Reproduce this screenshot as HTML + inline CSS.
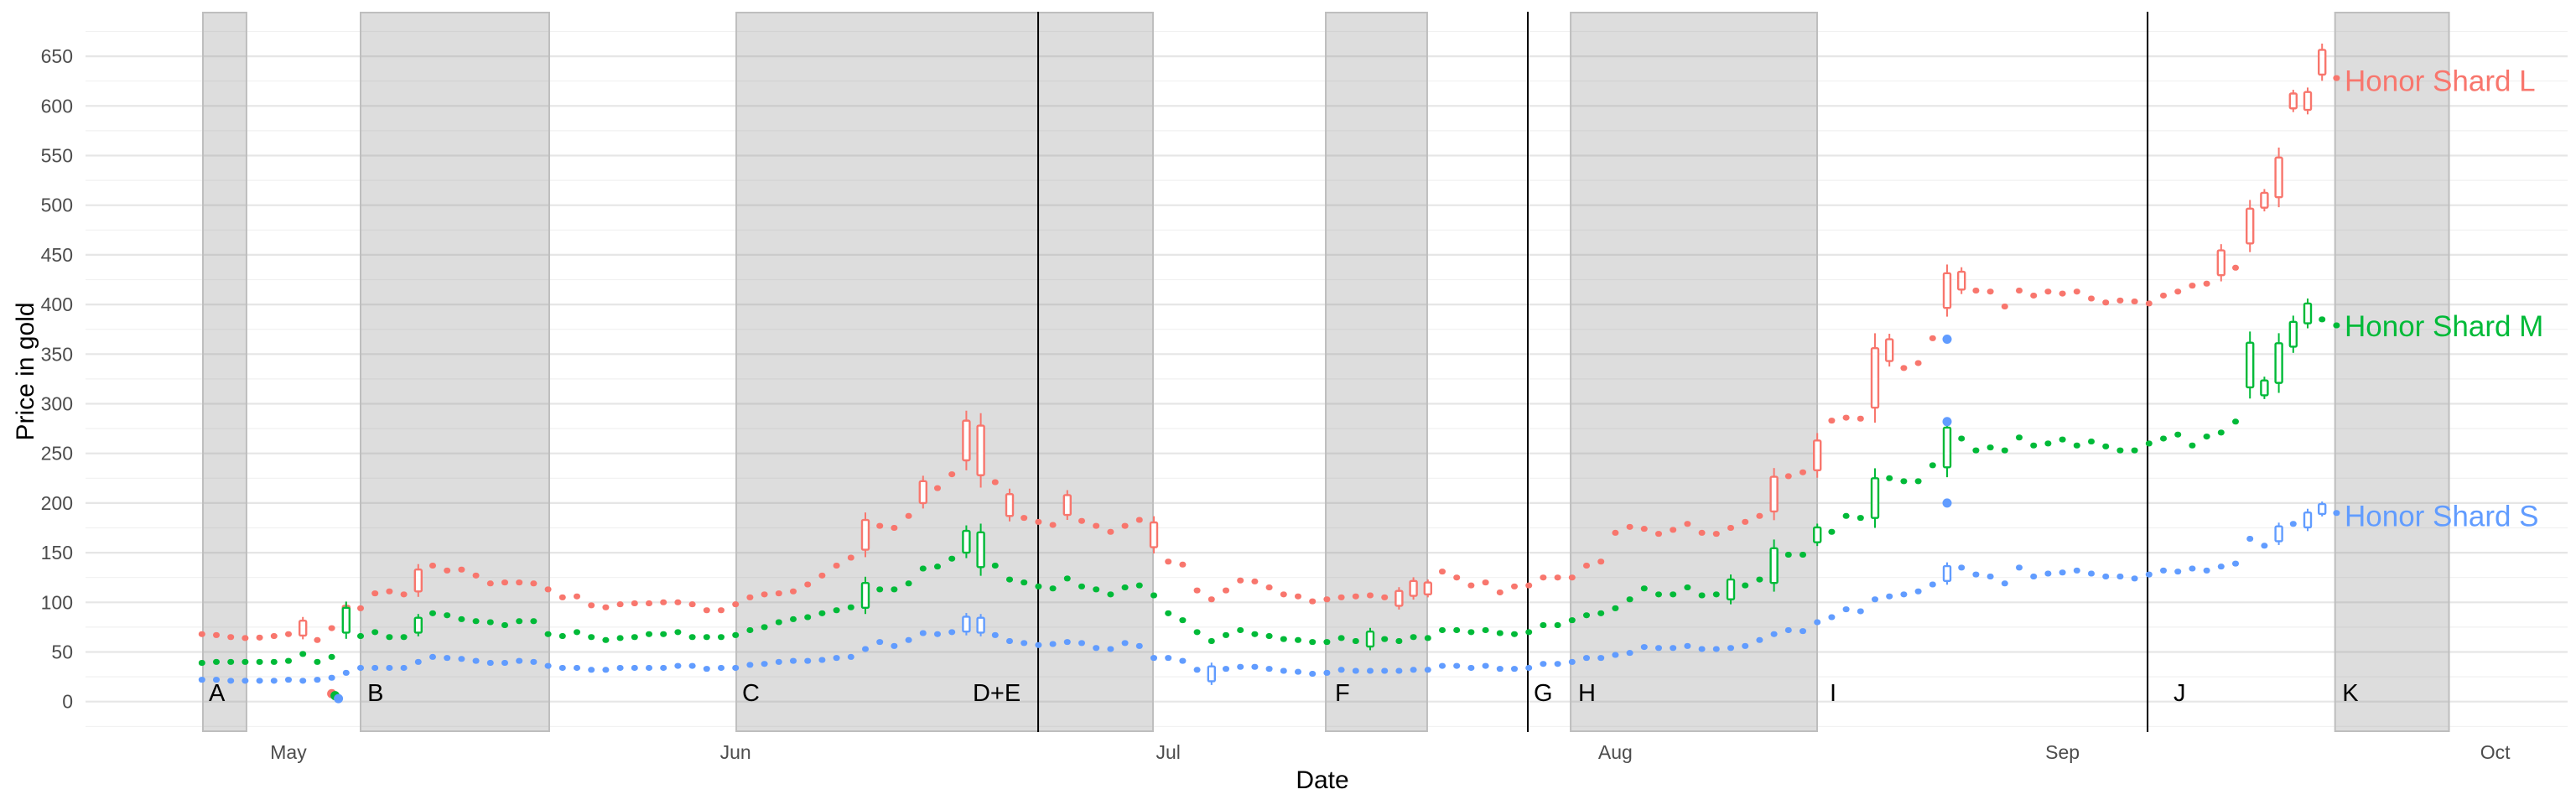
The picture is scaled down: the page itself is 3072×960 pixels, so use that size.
<!DOCTYPE html>
<html><head><meta charset="utf-8"><style>
html,body{margin:0;padding:0;background:#fff;}
svg{display:block;font-family:"Liberation Sans",sans-serif;}
</style></head>
<body>
<svg id="chart" width="3072" height="960" viewBox="0 0 3072 960" xmlns="http://www.w3.org/2000/svg">
<g id="grid"></g>
<g id="shades"></g>
<g id="vlines"></g>
<g id="marks"></g>
<g id="labels"></g>
<text x="1577" y="940" font-size="30" text-anchor="middle" fill="#000">Date</text>
<text transform="translate(40,443) rotate(-90)" font-size="30" text-anchor="middle" fill="#000">Price in gold</text>
</svg>
<script>
const startDay = -7; // Apr 24 relative to May 1
const redValues = [68,67,65,64,64.5,66,68,
74,62,74,89,94,109,111,108,122,137,
132,133,127,119,120,120,119,113,105,106,
97,95,98,99,99,100,100,98,92,92,
98,105,108,109,111,118,127,137,
145,168,177,175,187,211,215,229,263,253,221,198,
185,181,178,198,182,177,171,177,183,168,
141,138,112,103,112,122,121,115,108,106,
101,103,105,106,107,105,104,114,114,131,
125,117,120,110,116,117,125,125,125,137,
141,170,176,174,169,173,179,170,169,175,
181,187,209,227,231,248,283,286,285,326,
354,336,341,366,414,424,414,413,398,414,
409,413,411,413,406,402,404,403,401,409,
413,419,421,442,437,479,505,528,605,605,644,628];
const greenValues = [39,40,40,40,40,40,41,
48,40,45,82,66,70,65,65,77,89,
87,83,81,80,77,81,81,68,66,70,
65,62,64,65,68,68,70,65,65,65,
67,72,75,80,83,85,89,92,
95,107,113,113,119,134,136,144,161,153,137,123,
120,116,114,124,116,113,108,115,117,107,
89,82,70,61,67,72,68,66,63,62,
60,60,64,61,63,63,61,65,64,72,
72,70,72,69,68,70,77,77,82,87,
89,94,103,114,108,108,115,107,108,113,
117,123,137,148,148,168,171,187,185,205,
225,222,222,238,256,265,253,256,253,266,
258,260,264,258,262,257,253,253,260,265,
269,258,267,271,282,339,316,341,370,391,385,379];
const blueValues = [22,22,21,21,21,21,22,
21,22,24,29,34,34,34,34,40,45,
44,43,41,39,39,41,40,36,34,34,
32,32,34,34,34,34,36,36,33,34,
34,37,38,40,41,41,42,44,
45,53,60,56,62,69,68,70,78,77,67,61,
59,57,58,60,59,54,53,59,56,44,
44,41,32,28,33,35,35,33,31,30,
28,29,32,31,31,31,31,32,32,36,
36,34,36,33,33,34,38,38,40,44,
44,47,49,55,54,54,56,53,53,54,
56,62,68,72,71,80,85,93,91,103,
106,108,111,118,129,135,128,126,119,135,
126,129,130,132,129,126,126,124,128,132,
131,134,132,136,139,164,157,169,179,183,194,190];
const redWideDays = [0,3,8,39,43,46,47,49,53,59,76,77,78,102,105,109,110,114,115,133,135,136,137,138,139,140];
const redWideSpans = [15,15,22,30,22,40,50,22,20,25,15,15,12,35,30,60,22,35,18,25,35,15,40,15,18,25];
const greenWideDays = [3,8,39,46,47,74,99,102,105,109,114,135,136,137,138,139];
const greenWideSpans = [25,15,25,22,35,15,20,35,15,40,40,45,15,40,25,20];
const blueWideDays = [46,47,63,114,137,139,140];
const blueWideSpans = [15,15,15,15,15,15,10];
const outlierDays = [2,2,2,114,114,114];
const outlierValues = [8,6,3,365,282,200];
const outlierSeries = ["red","green","blue","blue","blue","blue"];
const yTicks = [0,50,100,150,200,250,300,350,400,450,500,550,600,650];
const monthLabels = ["May","Jun","Jul","Aug","Sep","Oct"];
const monthOffsets = [0,31,61,92,123,153];
const shadeNames = ["A","B","C","F","H","K"];
const shadeStart = [-5.93,5.0,31.05,71.92,88.9,141.9];
const shadeEnd = [-2.91,18.08,59.94,78.95,105.99,149.8];
const lineNames = ["D+E","G","J"];
const lineDays = [51.98,85.93,128.9];
const labelNames = ["A","B","C","D+E","F","G","H","I","J","K"];
const labelDays = [-5.52,5.47,31.45,47.44,72.56,86.34,89.42,106.86,130.7,142.4];
const seriesNames = ["Honor Shard L","Honor Shard M","Honor Shard S"];
const seriesEndValues = [625,378,187];

const NS="http://www.w3.org/2000/svg";
const X0=344, PXD=17.2, Y0=836.7, PXV=1.184;
function xDate(d){return X0+d*PXD;}
function xCandle(d){return X0+(d+1.0)*PXD;}
function yv(v){return Y0-v*PXV;}
function mk(tag,attrs,parent){const e=document.createElementNS(NS,tag);for(const k in attrs)e.setAttribute(k,attrs[k]);parent.appendChild(e);return e;}
const colors={red:"#F8766D",green:"#00BA38",blue:"#619CFF"};

const grid=document.getElementById("grid");
for(let v=-25;v<=675;v+=25){
  const major=v%50===0;
  const l=mk("line",{x1:102,x2:3062,y1:yv(v),y2:yv(v),stroke:major?"#e6e6e6":"#f1f1f1","stroke-width":major?2.2:1.2},grid);
  
  
}
yTicks.forEach(t=>{
  const e=mk("text",{x:87,y:yv(t)+8,"font-size":23,"text-anchor":"end",fill:"#4d4d4d"},grid);
  e.textContent=t;
  
  
});
monthLabels.forEach((m,i)=>{
  const e=mk("text",{x:xDate(monthOffsets[i]),y:905,"font-size":23,"text-anchor":"middle",fill:"#4d4d4d"},grid);
  e.textContent=m;
  
  
});

const shades=document.getElementById("shades");
shadeNames.forEach((n,i)=>{
  const a=xDate(shadeStart[i]), b=xDate(shadeEnd[i]);
  const r=mk("rect",{x:a,y:15,width:b-a,height:857,fill:"rgba(128,128,128,0.27)",stroke:"#bebebe","stroke-width":2},shades);
  
  
});
const vl=document.getElementById("vlines");
lineNames.forEach((n,i)=>{
  const x=xDate(lineDays[i]);
  const l=mk("line",{x1:x,x2:x,y1:14,y2:873,stroke:"#000","stroke-width":2},vl);
  
  
});

const marks=document.getElementById("marks");
function drawSeries(vals,wd,ws,col,name){
  const g=mk("g",{},marks);
  
  
  vals.forEach((v,i)=>{
    const d=startDay+i, x=xCandle(d), y=yv(v);
    const wi=wd.indexOf(d);
    if(wi>=0){
      const h=ws[wi]*PXV;
      const w=mk("line",{x1:x,x2:x,y1:y-h*0.75,y2:y+h*0.75,stroke:col,"stroke-width":2},g);
      
      
      const r=mk("rect",{x:x-4,y:y-h/2,width:8,height:h,fill:"#fff",stroke:col,"stroke-width":2.4,rx:1.5},g);
      
      
    } else {
      const r=mk("rect",{x:x-4,y:y-3.5,width:8,height:7,fill:col,rx:3.5},g);
      
      
    }
  });
}
drawSeries(redValues,redWideDays,redWideSpans,colors.red,"series-honor-shard-l");
drawSeries(greenValues,greenWideDays,greenWideSpans,colors.green,"series-honor-shard-m");
drawSeries(blueValues,blueWideDays,blueWideSpans,colors.blue,"series-honor-shard-s");
outlierDays.forEach((d,i)=>{
  const c=mk("circle",{cx:xCandle(d)+(outlierSeries[i]==="green"?4:outlierSeries[i]==="blue"&&d<10?8:0),cy:yv(outlierValues[i]),r:5.5,fill:colors[outlierSeries[i]]},marks);
  
  
});

const labels=document.getElementById("labels");
labelNames.forEach((n,i)=>{
  const e=mk("text",{x:xDate(labelDays[i]),y:836,"font-size":29,fill:"#000"},labels);
  e.textContent=n;
  
  
});
const scol=[colors.red,colors.green,colors.blue];
seriesNames.forEach((n,i)=>{
  const e=mk("text",{x:2796,y:yv(seriesEndValues[i])+12,"font-size":35,fill:scol[i]},labels);
  e.textContent=n;
  
  
});
</script>
</body></html>
